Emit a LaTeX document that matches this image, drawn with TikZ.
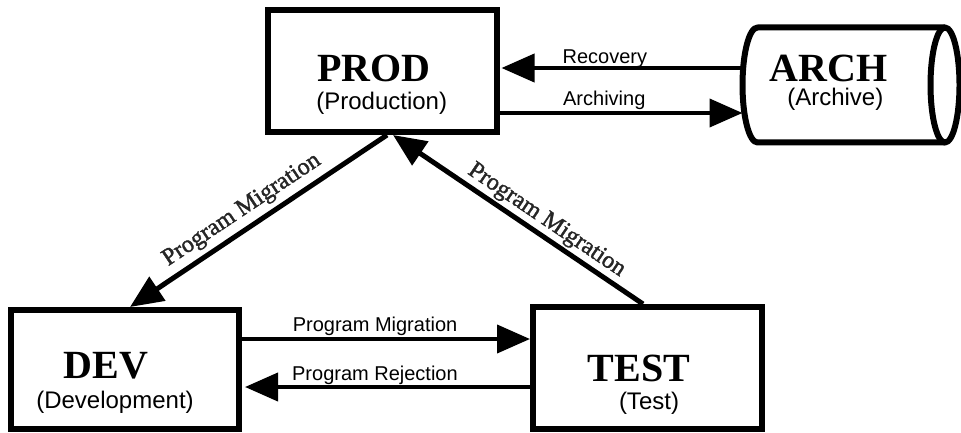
\documentclass[tikz,border=0pt]{standalone}
\usepackage{fontspec}
\setmainfont{Liberation Serif}
\setsansfont{Liberation Sans}
\newfontfamily\shadowserif[FakeBold=1.6]{Liberation Serif}
\usetikzlibrary{arrows.meta}
\begin{document}
\begin{tikzpicture}[x=1pt,y=-1pt,
  box/.style={draw, line width=6pt, inner sep=0pt, outer sep=0pt},
  cylbody/.style={inner sep=0pt, outer sep=0pt},
  cylline/.style={line width=6pt, line join=round},
  title/.style={font=\fontsize{40}{40}\selectfont\bfseries\rmfamily, anchor=base, inner sep=0pt},
  sub/.style={font=\fontsize{24}{24}\selectfont\sffamily, anchor=base, inner sep=0pt},
  lab/.style={font=\fontsize{20}{20}\selectfont\sffamily, anchor=base, inner sep=0pt},
  dlab/.style={font=\fontsize{24}{24}\selectfont\shadowserif, text=black!85, sloped, inner sep=0pt},
  harrow/.style={line width=4pt, -{Triangle[length=33pt,width=28pt]}},
  darrow/.style={line width=5pt, -{Triangle[length=33pt,width=28pt]}},
]
\useasboundingbox (0,0) rectangle (961,433);

% boxes
\node[box, minimum width=229pt, minimum height=122pt] (prod) at (382.5,71) {};
\node[box, minimum width=228pt, minimum height=119pt] (dev) at (125,369.5) {};
\node[box, minimum width=229pt, minimum height=122pt] (test) at (647.5,368) {};
\node[cylbody, minimum width=217pt, minimum height=115pt] (arch) at (851,85) {};

% cylinder
\draw[cylline] ([xshift=-14.5pt]arch.north east) -- ([xshift=15pt]arch.north west)
  arc[start angle=270, end angle=90, x radius=15, y radius=57.5]
  -- ([xshift=-14.5pt]arch.south east);
\draw[cylline] ([xshift=-14.5pt]arch.east) ellipse [x radius=14.5, y radius=57.5];

% texts
\node[title] (prodT) at (373.8,81.7) {PROD};
\node[sub] (prodS) at (381.7,110) {(Production)};
\node[title] (archT) at (828.8,81.7) {ARCH};
\node[sub] (archS) at (835.3,106) {(Archive)};
\node[title] (devT) at (105.8,378.3) {DEV};
\node[sub] (devS) at (115,408.3) {(Development)};
\node[title] (testT) at (639,381) {TEST};
\node[sub] (testS) at (649,409) {(Test)};

% horizontal connectors
\draw[harrow] ([yshift=17pt]arch.west) -- node[lab,pos=0.571,yshift=4pt]{Recovery} ([xshift=4.5pt,yshift=3pt]prod.east);
\draw[harrow] ([xshift=3pt,yshift=-42pt]prod.east) -- node[lab,pos=0.43,yshift=7pt]{Archiving} ([yshift=-28pt]arch.west);
\draw[harrow] ([xshift=3pt,yshift=30.5pt]dev.east) -- node[lab,pos=0.462,yshift=7.3pt]{Program Migration} ([xshift=-3pt,yshift=29pt]test.west);
\draw[harrow] ([xshift=-3pt,yshift=-19pt]test.west) -- node[lab,pos=0.544,yshift=6.3pt]{Program Rejection} ([xshift=6pt,yshift=-17.5pt]dev.east);

% diagonal connectors
\draw[darrow] ([xshift=4.5pt,yshift=-3pt]prod.south) -- node[dlab,pos=0.525,above=5pt]{Program Migration} ([xshift=5pt,yshift=3pt]dev.north);
\draw[darrow] ([xshift=-4.5pt,yshift=3pt]test.north) -- node[dlab,pos=0.42,above=2pt]{Program Migration} ([xshift=10.5pt,yshift=-3pt]prod.south);
\end{tikzpicture}
\end{document}
